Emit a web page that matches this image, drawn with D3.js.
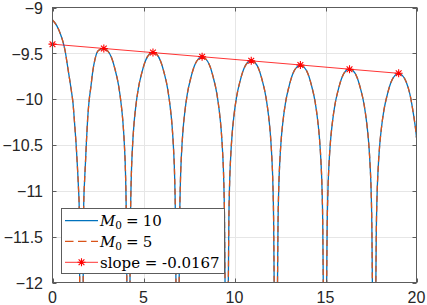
<!DOCTYPE html>
<html>
<head>
<meta charset="utf-8">
<script src="https://cdn.jsdelivr.net/npm/d3@7"></script>
<style>
  body { margin: 0; background: #fff; }
  svg { display: block; }
</style>
</head>
<body>
<div id="chart"></div>
<script>
//Data//
//x samples of the curve (M0 = 10 and M0 = 5 lie on top of each other)
var curveX = [
  0, 0.24, 0.42, 0.57, 0.70, 0.82, 0.93, 1.03, 1.12, 1.22, 1.30, 1.37, 1.43, 1.47, 1.49, 1.50,
  1.68, 1.69, 1.71, 1.76, 1.81, 1.86, 1.93, 2.01, 2.10, 2.21, 2.34, 2.52, 2.82,
  3.02, 3.23, 3.43, 3.63, 3.77, 3.87, 3.95, 4.01, 4.05, 4.08, 4.12,
  4.22, 4.26, 4.29, 4.33, 4.39, 4.47, 4.57, 4.71, 4.91, 5.11, 5.32, 5.52,
  5.72, 5.93, 6.13, 6.33, 6.47, 6.57, 6.65, 6.71, 6.75, 6.78, 6.82,
  6.92, 6.96, 6.99, 7.03, 7.09, 7.17, 7.27, 7.41, 7.61, 7.81, 8.02, 8.22,
  8.42, 8.63, 8.83, 9.03, 9.17, 9.27, 9.35, 9.41, 9.45, 9.48, 9.52,
  9.62, 9.66, 9.69, 9.73, 9.79, 9.87, 9.97, 10.11, 10.31, 10.51, 10.72, 10.92,
  11.12, 11.33, 11.53, 11.73, 11.87, 11.97, 12.05, 12.11, 12.15, 12.18, 12.22,
  12.32, 12.36, 12.39, 12.43, 12.49, 12.57, 12.67, 12.81, 13.01, 13.21, 13.42, 13.62,
  13.82, 14.03, 14.23, 14.43, 14.57, 14.67, 14.75, 14.81, 14.85, 14.88, 14.92,
  15.02, 15.06, 15.09, 15.13, 15.19, 15.27, 15.37, 15.51, 15.71, 15.91, 16.12, 16.32,
  16.52, 16.73, 16.93, 17.13, 17.27, 17.37, 17.45, 17.51, 17.55, 17.58, 17.62,
  17.72, 17.76, 17.79, 17.83, 17.89, 17.97, 18.07, 18.21, 18.41, 18.61, 18.82, 19.02,
  19.22, 19.43, 19.63, 19.83, 19.97, 20.0
];
//M0 = 10
var curveY10 = [
  -9.136, -9.20, -9.28, -9.37, -9.48, -9.63, -9.77, -9.90, -10.03, -10.28, -10.50, -10.74, -10.98, -11.20, -11.70, -12.60,
  -12.60, -11.70, -11.20, -10.90, -10.70, -10.48, -10.22, -10.02, -9.88, -9.70, -9.56, -9.47, -9.447,
  -9.47, -9.54, -9.67, -9.85, -10.05, -10.25, -10.50, -10.80, -11.20, -11.90, -12.65,
  -12.69, -11.94, -11.24, -10.84, -10.54, -10.29, -10.09, -9.89, -9.71, -9.58, -9.51, -9.49,
  -9.51, -9.58, -9.71, -9.89, -10.09, -10.29, -10.54, -10.84, -11.24, -11.94, -12.69,
  -12.74, -11.99, -11.29, -10.89, -10.59, -10.34, -10.14, -9.94, -9.76, -9.63, -9.56, -9.54,
  -9.56, -9.63, -9.76, -9.94, -10.14, -10.34, -10.59, -10.89, -11.29, -11.99, -12.74,
  -12.78, -12.03, -11.33, -10.93, -10.63, -10.38, -10.18, -9.98, -9.80, -9.67, -9.60, -9.58,
  -9.60, -9.67, -9.80, -9.98, -10.18, -10.38, -10.63, -10.93, -11.33, -12.03, -12.78,
  -12.83, -12.08, -11.38, -10.98, -10.68, -10.43, -10.23, -10.03, -9.85, -9.72, -9.65, -9.63,
  -9.65, -9.72, -9.85, -10.03, -10.23, -10.43, -10.68, -10.98, -11.38, -12.08, -12.83,
  -12.87, -12.12, -11.42, -11.02, -10.72, -10.47, -10.27, -10.07, -9.89, -9.76, -9.69, -9.67,
  -9.69, -9.76, -9.89, -10.07, -10.27, -10.47, -10.72, -11.02, -11.42, -12.12, -12.87,
  -12.92, -12.17, -11.47, -11.07, -10.77, -10.52, -10.32, -10.12, -9.94, -9.81, -9.74, -9.72,
  -9.74, -9.81, -9.94, -10.16, -10.36, -10.42
];
//M0 = 5 is drawn over it and cannot be told apart
var curveY5 = curveY10.slice();

//fitted line through the peaks
var fitX = [0, 2.82, 5.52, 8.22, 10.92, 13.62, 16.32, 19.02];
var fitY = [-9.4, -9.447, -9.492, -9.537, -9.582, -9.627, -9.673, -9.718];

//ticks
var xTicks = [0, 5, 10, 15, 20];
var yTicks = [-9, -9.5, -10, -10.5, -11, -11.5, -12];

var legendLabels = ["10", "5", "slope = -0.0167"];

//Layout//
var W = 427, H = 305;
var pLeft = 52.5, pRight = 416.5, pTop = 7.5, pBottom = 282.5;
var axisColor = "#5c5c5c";
var blue = "#0072BD", orange = "#D95319", red = "#FF0000";

var svg = d3.select("#chart")
  .append("svg")
  .attr("width", W)
  .attr("height", H);

var x = d3.scaleLinear().domain([0, 20]).range([pLeft, pRight]);
var y = d3.scaleLinear().domain([-12, -9]).range([pBottom, pTop]);

svg.append("clipPath").attr("id", "plotClip")
  .append("rect")
  .attr("x", pLeft).attr("y", pTop)
  .attr("width", pRight - pLeft).attr("height", pBottom - pTop);

//grid
var grid = svg.append("g");
grid.selectAll(".gx")
  .data(xTicks.slice(1, -1))
  .enter().append("line")
  .attr("x1", function(d){ return Math.round(x(d)) + 0.5; })
  .attr("x2", function(d){ return Math.round(x(d)) + 0.5; })
  .attr("y1", pTop).attr("y2", pBottom)
  .style("stroke", "#e6e6e6");
grid.selectAll(".gy")
  .data(yTicks.slice(1, -1))
  .enter().append("line")
  .attr("y1", function(d){ return Math.round(y(d)) + 0.5; })
  .attr("y2", function(d){ return Math.round(y(d)) + 0.5; })
  .attr("x1", pLeft).attr("x2", pRight)
  .style("stroke", "#e6e6e6");

//curves
var line = d3.line()
  .x(function(d){ return x(d[0]); })
  .y(function(d){ return y(d[1]); })
  .curve(d3.curveMonotoneX);

var plot = svg.append("g").attr("clip-path", "url(#plotClip)");

plot.append("path")
  .datum(d3.zip(curveX, curveY10))
  .attr("d", line)
  .style("fill", "none")
  .style("stroke", blue)
  .style("stroke-width", 1.3);

plot.append("path")
  .datum(d3.zip(curveX, curveY5))
  .attr("d", line)
  .style("fill", "none")
  .style("stroke", orange)
  .style("stroke-width", 1.3)
  .style("stroke-dasharray", "6,4");

plot.append("path")
  .datum(d3.zip(fitX, fitY))
  .attr("d", d3.line().x(function(d){ return x(d[0]); }).y(function(d){ return y(d[1]); }))
  .style("fill", "none")
  .style("stroke", red)
  .style("stroke-width", 0.8);

//asterisk marker: plus and cross on top of each other, like the '*' marker
var asterisk8 = {
  draw: function(context, size){
    var r = Math.sqrt(size) / 2, q = r * 0.72;
    context.moveTo(-r, 0); context.lineTo(r, 0);
    context.moveTo(0, -r); context.lineTo(0, r);
    context.moveTo(-q, -q); context.lineTo(q, q);
    context.moveTo(-q, q); context.lineTo(q, -q);
  }
};
var star = d3.symbol().type(asterisk8).size(64);

//markers (not clipped)
svg.selectAll(".mk")
  .data(d3.zip(fitX, fitY))
  .enter().append("path")
  .attr("d", star)
  .attr("transform", function(d){ return "translate(" + x(d[0]) + "," + y(d[1]) + ")"; })
  .style("fill", "none")
  .style("stroke", red)
  .style("stroke-width", 1.1);

//box and inward ticks
var axes = svg.append("g").style("stroke", axisColor).style("stroke-width", 1);
axes.append("rect")
  .attr("x", pLeft).attr("y", pTop)
  .attr("width", pRight - pLeft).attr("height", pBottom - pTop)
  .style("fill", "none");
xTicks.forEach(function(t){
  var px = Math.round(x(t)) + 0.5;
  axes.append("line").attr("x1", px).attr("x2", px).attr("y1", pBottom).attr("y2", pBottom - 4);
  axes.append("line").attr("x1", px).attr("x2", px).attr("y1", pTop).attr("y2", pTop + 4);
});
yTicks.forEach(function(t){
  var py = Math.round(y(t)) + 0.5;
  axes.append("line").attr("y1", py).attr("y2", py).attr("x1", pLeft).attr("x2", pLeft + 4);
  axes.append("line").attr("y1", py).attr("y2", py).attr("x1", pRight).attr("x2", pRight - 4);
});

//tick labels
var tickFont = "'Liberation Sans', Arial, Helvetica, sans-serif";
svg.selectAll(".xl")
  .data(xTicks)
  .enter().append("text")
  .attr("x", function(d){ return x(d); })
  .attr("y", 303)
  .attr("text-anchor", "middle")
  .style("font-family", tickFont)
  .style("font-size", "16px")
  .style("fill", "#262626")
  .text(function(d){ return d; });
svg.selectAll(".yl")
  .data(yTicks)
  .enter().append("text")
  .attr("x", 43)
  .attr("y", function(d){ return y(d) + 6.3; })
  .attr("text-anchor", "end")
  .style("font-family", tickFont)
  .style("font-size", "16px")
  .style("fill", "#262626")
  .text(function(d){ return String(d).replace("-", "\u2212"); });

//Legend//
var lg = svg.append("g");
lg.append("rect")
  .attr("x", 61.5).attr("y", 208.5)
  .attr("width", 163).attr("height", 65)
  .style("fill", "#fff")
  .style("stroke", axisColor)
  .style("stroke-width", 1);

var rows = [220.7, 241.3, 262.3];
var serif = "'DejaVu Serif', serif";

lg.append("line").attr("x1", 65).attr("x2", 98).attr("y1", rows[0]).attr("y2", rows[0])
  .style("stroke", blue).style("stroke-width", 1.3);
lg.append("line").attr("x1", 65).attr("x2", 98).attr("y1", rows[1]).attr("y2", rows[1])
  .style("stroke", orange).style("stroke-width", 1.3).style("stroke-dasharray", "8.5,4.5");
lg.append("line").attr("x1", 65).attr("x2", 98).attr("y1", rows[2]).attr("y2", rows[2])
  .style("stroke", red).style("stroke-width", 0.8);
lg.append("path")
  .attr("d", star)
  .attr("transform", "translate(81.5," + rows[2] + ")")
  .style("fill", "none").style("stroke", red).style("stroke-width", 1.1);

//M_0 = value labels
[0, 1].forEach(function(i){
  var t = lg.append("text")
    .attr("x", 100).attr("y", rows[i] + 5.3)
    .style("font-family", serif).style("font-size", "15px").style("fill", "#000");
  t.append("tspan").style("font-style", "italic").text("M");
  t.append("tspan").attr("dy", 3).style("font-size", "10.5px").text("0");
  t.append("tspan").attr("dy", -3).attr("dx", 4).text("=");
  t.append("tspan").attr("dx", 4).text(legendLabels[i]);
});
lg.append("text")
  .attr("x", 100).attr("y", rows[2] + 5.3)
  .style("font-family", serif).style("font-size", "15px").style("fill", "#000")
  .text(legendLabels[2]);
</script>
</body>
</html>
